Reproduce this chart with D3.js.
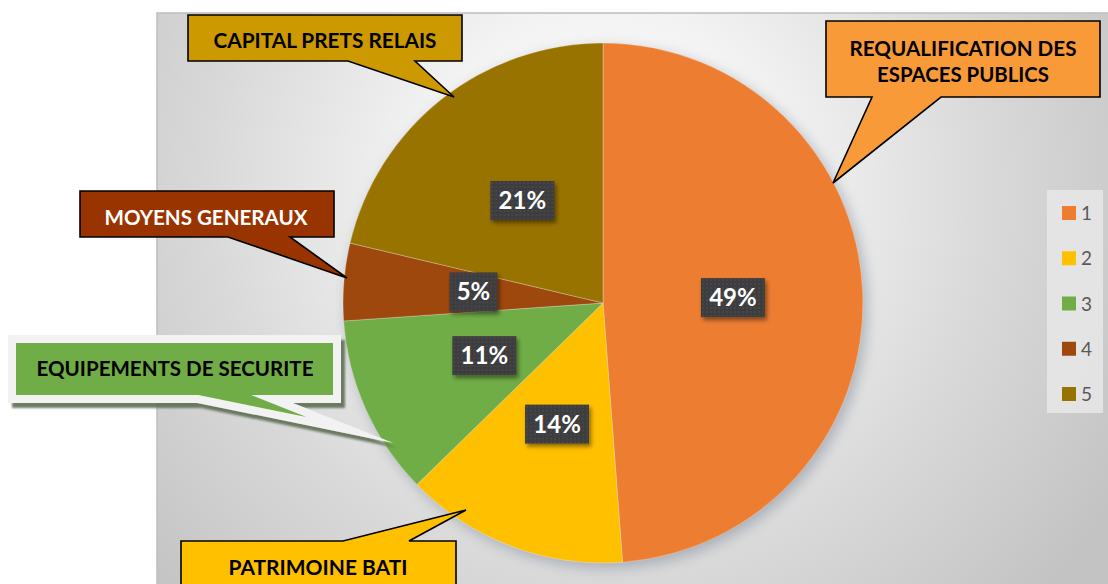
<!DOCTYPE html>
<html><head><meta charset="utf-8">
<script src="https://cdn.jsdelivr.net/npm/d3@7"></script>
<style>body{margin:0;background:#fff}svg{display:block}</style>
</head><body>
<svg id="c" width="1108" height="584"></svg>
<script>
// ---- data ----
const categories = ["1", "2", "3", "4", "5"];
const values = [48.8, 13.9, 11.2, 4.8, 21.3];
const percentLabels = ["49%", "14%", "11%", "5%", "21%"];
const calloutNames = [["REQUALIFICATION DES", "ESPACES PUBLICS"], ["PATRIMOINE BATI"], ["EQUIPEMENTS DE SECURITE"], ["MOYENS GENERAUX"], ["CAPITAL PRETS RELAIS"]];
const sliceColors = ["#ED7D31", "#FFC000", "#70AD47", "#9E480E", "#997300"];

const svg = d3.select("#c");
const defs = svg.append("defs");
const FONT = "Lato, 'Open Sans', sans-serif";

// background gradient
const rg = defs.append("radialGradient").attr("id", "bg").attr("gradientUnits", "userSpaceOnUse")
  .attr("cx", 600).attr("cy", 190).attr("r", 600);
[[0, "#ffffff"], [0.3, "#f3f3f3"], [0.65, "#d9d9d9"], [1, "#c3c3c3"]].forEach(([o, c]) => rg.append("stop").attr("offset", o).attr("stop-color", c));
const blur = defs.append("filter").attr("id", "pieShadow").attr("x", "-20%").attr("y", "-20%").attr("width", "140%").attr("height", "140%");
blur.append("feGaussianBlur").attr("stdDeviation", 7);
const ds = defs.append("filter").attr("id", "boxShadow").attr("x", "-30%").attr("y", "-30%").attr("width", "160%").attr("height", "160%");
ds.append("feDropShadow").attr("dx", 2).attr("dy", 3).attr("stdDeviation", 2).attr("flood-color", "#000").attr("flood-opacity", 0.45);
const ds2 = defs.append("filter").attr("id", "eqShadow").attr("x", "-10%").attr("y", "-20%").attr("width", "130%").attr("height", "160%");
ds2.append("feDropShadow").attr("dx", 4).attr("dy", 5).attr("stdDeviation", 0.8).attr("flood-color", "#5f6e52").attr("flood-opacity", 0.9);
const pat = defs.append("pattern").attr("id", "dots").attr("patternUnits", "userSpaceOnUse").attr("width", 4).attr("height", 4);
pat.append("rect").attr("width", 4).attr("height", 4).attr("fill", "#3d3d3f");
pat.append("circle").attr("cx", 2).attr("cy", 2).attr("r", 0.7).attr("fill", "#58585c");

// panel
svg.append("rect").attr("x", 157).attr("y", 13).attr("width", 960).attr("height", 590)
  .attr("fill", "url(#bg)").attr("stroke", "#bdbdbd").attr("stroke-width", 1.5);

// pie
const cx = 603, cy = 303, R = 260;
const g = svg.append("g").attr("transform", `translate(${cx},${cy})`);
g.append("circle").attr("cx", 4).attr("cy", 5).attr("r", R).attr("fill", "#7e8898").attr("opacity", 0.55).attr("filter", "url(#pieShadow)");
const pie = d3.pie().sort(null).value(d => d)(values);
const arc = d3.arc().innerRadius(0).outerRadius(R);
g.selectAll("path.s").data(pie).join("path").attr("class", "s")
  .attr("d", arc).attr("fill", (d, i) => sliceColors[i])
  .attr("stroke", "#ffffff").attr("stroke-opacity", 0.35).attr("stroke-width", 0.8);

// data labels
const lab = g.selectAll("g.l").data(pie).join("g").attr("class", "l")
  .attr("transform", d => `translate(${arc.centroid(d)})`);
lab.append("rect").attr("x", (d, i) => percentLabels[i].length > 2 ? -32 : -24).attr("y", -20)
  .attr("width", (d, i) => percentLabels[i].length > 2 ? 64 : 48).attr("height", 39)
  .attr("fill", "url(#dots)").attr("filter", "url(#boxShadow)");
lab.append("text").text((d, i) => percentLabels[i]).attr("text-anchor", "middle").attr("y", 8)
  .attr("fill", "#fff").attr("font-family", FONT).attr("font-weight", 700).attr("font-size", 24);

// callouts
function callout(x, y, w, h, side, b1, b2, tx, ty) {
  const p = d3.path();
  p.moveTo(x, y);
  if (side === "top") { p.lineTo(b1, y); p.lineTo(tx, ty); p.lineTo(b2, y); }
  p.lineTo(x + w, y); p.lineTo(x + w, y + h);
  if (side === "bottom") { p.lineTo(b2, y + h); p.lineTo(tx, ty); p.lineTo(b1, y + h); }
  p.lineTo(x, y + h); p.closePath();
  return p.toString();
}
const callouts = [
  { idx: 0, fill: "#F99A38", text: "#000", box: [826, 21, 274, 76], side: "bottom", b: [872, 941], tip: [833, 183], lines: [[963, 56, 227], [963, 82, 172]] },
  { idx: 1, fill: "#FFC000", text: "#000", box: [181, 541, 275, 70], side: "top", b: [343, 409], tip: [466, 510], lines: [[318, 575, 179]] },
  { idx: 3, fill: "#993300", text: "#fff", box: [80, 191, 254, 46], side: "bottom", b: [228, 290], tip: [347, 278], lines: [[206, 225, 203]] },
  { idx: 4, fill: "#CC9900", text: "#000", box: [188, 15, 274, 46], side: "bottom", b: [348, 415], tip: [454, 97], lines: [[325, 48, 223]] }
];
callouts.forEach(c => {
  svg.append("path").attr("d", callout(...c.box, c.side, ...c.b, ...c.tip))
    .attr("fill", c.fill).attr("stroke", "#000").attr("stroke-width", 1.6).attr("stroke-linejoin", "miter");
  calloutNames[c.idx].forEach((t, j) => {
    const [lx, ly, lw] = c.lines[j];
    svg.append("text").text(t).attr("x", lx).attr("y", ly).attr("text-anchor", "middle")
      .attr("fill", c.text).attr("font-family", FONT).attr("font-weight", 700).attr("font-size", 20)
      .attr("textLength", lw).attr("lengthAdjust", "spacingAndGlyphs");
  });
});
// green callout with white border & shadow
svg.append("path").attr("d", callout(12, 339, 325, 60, "bottom", 198, 272, 350, 430))
  .attr("fill", "#70AD47").attr("stroke", "#f2f2f2").attr("stroke-width", 8)
  .attr("stroke-linejoin", "miter").attr("stroke-miterlimit", 20).attr("filter", "url(#eqShadow)");
svg.append("text").text(calloutNames[2][0]).attr("x", 175).attr("y", 376).attr("text-anchor", "middle")
  .attr("fill", "#000").attr("font-family", FONT).attr("font-weight", 700).attr("font-size", 20)
  .attr("textLength", 277).attr("lengthAdjust", "spacingAndGlyphs");

// legend
svg.append("rect").attr("x", 1047).attr("y", 190).attr("width", 56).attr("height", 223).attr("fill", "#e8e8e8").attr("opacity", 0.85);
const ly = d3.scalePoint().domain(categories).range([213, 394]);
const leg = svg.selectAll("g.lg").data(categories).join("g").attr("class", "lg")
  .attr("transform", d => `translate(1062,${ly(d)})`);
leg.append("rect").attr("x", 0).attr("y", -7).attr("width", 14).attr("height", 14).attr("fill", (d, i) => sliceColors[i]);
leg.append("text").text(d => d).attr("x", 19).attr("y", 7).attr("fill", "#595959")
  .attr("font-family", FONT).attr("font-size", 19);
</script>
</body></html>
